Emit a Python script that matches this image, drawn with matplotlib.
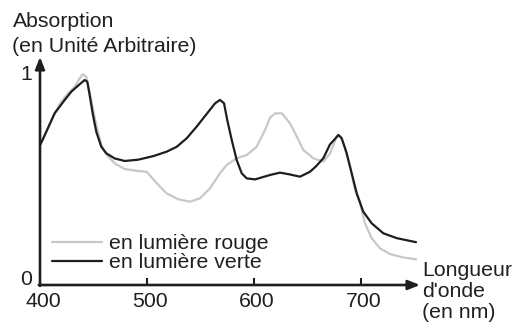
import matplotlib
matplotlib.use("Agg")
import matplotlib.pyplot as plt
import matplotlib.transforms as mtransforms

plt.rcParams['font.family'] = ['Liberation Sans', 'DejaVu Sans']

# ---- data ----
wl_verte = [400, 401.9, 413.7, 423.1, 429.3, 435.5, 441.8, 444.2, 446.4, 449.5, 452.6,
            457.3, 462.0, 469.8, 479.2, 491.6, 505.9, 518.4, 527.8, 537.1, 546.4, 555.8,
            563.6, 568.2, 572.0, 575.0, 579.2, 583.8, 588.5, 593.2, 600.9, 615.0, 624.3,
            633.0, 643.0, 652.3, 658.0, 664.8, 671.0, 675.7, 678.8, 682.0, 686.6, 691.3,
            696.0, 702.1, 710.0, 720.8, 733.4, 751.4]
abs_verte = [0.660, 0.679, 0.810, 0.873, 0.912, 0.940, 0.967, 0.959, 0.896, 0.802, 0.723,
             0.652, 0.621, 0.597, 0.585, 0.591, 0.608, 0.629, 0.652, 0.692, 0.747, 0.807,
             0.857, 0.873, 0.857, 0.778, 0.684, 0.590, 0.527, 0.503, 0.498, 0.519, 0.530,
             0.522, 0.511, 0.534, 0.560, 0.598, 0.663, 0.689, 0.708, 0.692, 0.621, 0.527,
             0.433, 0.346, 0.291, 0.244, 0.221, 0.202]

wl_rouge = [400, 401.9, 407.5, 413.7, 419.9, 426.2, 432.4, 437.1, 440.2, 443.3, 446.4,
            449.5, 452.6, 457.3, 462.0, 469.8, 479.2, 491.6, 499.7, 509.1, 518.4, 529.3,
            540.2, 549.5, 558.9, 568.2, 574.5, 583.8, 593.2, 602.5, 610.3, 615.0, 620.0,
            626.0, 633.6, 640.0, 646.1, 655.4, 664.8, 671.0, 677.3, 680.4, 685.0, 689.7,
            694.4, 699.1, 703.7, 710.0, 717.8, 727.1, 739.5, 751.4]
abs_rouge = [0.662, 0.679, 0.739, 0.810, 0.865, 0.904, 0.935, 0.975, 0.995, 0.982, 0.912,
             0.833, 0.755, 0.660, 0.616, 0.574, 0.547, 0.538, 0.534, 0.480, 0.432, 0.404,
             0.393, 0.409, 0.456, 0.527, 0.566, 0.598, 0.613, 0.652, 0.731, 0.790, 0.810,
             0.810, 0.763, 0.700, 0.637, 0.598, 0.582, 0.620, 0.700, 0.703, 0.652, 0.558,
             0.448, 0.385, 0.291, 0.220, 0.173, 0.146, 0.130, 0.121]

x_ticks = [500, 600, 700]
x_ticklabels = ["400", "500", "600", "700"]
y_ticks = [0, 1]
y_ticklabels = ["0", "1"]
labels = ["en lumière rouge", "en lumière verte"]

TXT = '#231f20'
BLACK = '#1e1e1e'
GRAY = '#c8c8c8'
FS = 15.3

W, H = 514, 324
fig = plt.figure(figsize=(W / 100, H / 100), dpi=100)
x0, x1, yb, yt = 40, 420, 285, 57
ax = fig.add_axes([x0 / W, 1 - yb / H, (x1 - x0) / W, (yb - yt) / H])
ax.set_xlim(400, 400 + (x1 - x0) / 1.07)
ax.set_ylim(0, (yb - yt) / 212)

ax.plot(wl_rouge, abs_rouge, color=GRAY, lw=1.6, label=labels[0],
        solid_joinstyle='round', solid_capstyle='round')
ax.plot(wl_verte, abs_verte, color=BLACK, lw=1.6, label=labels[1],
        solid_joinstyle='round', solid_capstyle='round')

for s in ax.spines.values():
    s.set_visible(False)

arrow = dict(arrowstyle='-|>,head_length=0.7,head_width=0.28', lw=1.9, color=BLACK,
             shrinkA=0, shrinkB=0)
ax.annotate('', xy=(0, 1), xytext=(0, -0.004), xycoords='axes fraction', arrowprops=arrow,
            annotation_clip=False)
ax.annotate('', xy=(1, 0), xytext=(-0.003, 0), xycoords='axes fraction', arrowprops=arrow,
            annotation_clip=False)

ax.set_xticks([400] + x_ticks)
ax.set_xticklabels(x_ticklabels, fontsize=FS, color=TXT)
ax.tick_params(axis='x', direction='in', length=5, width=1.5, color=BLACK, pad=5)
ax.xaxis.get_major_ticks()[0].tick1line.set_visible(False)
off = mtransforms.ScaledTranslation(3 / 100, 0, fig.dpi_scale_trans)
for lab in ax.get_xticklabels():
    lab.set_transform(lab.get_transform() + off)

ax.set_yticks(y_ticks)
ax.set_yticklabels(y_ticklabels, fontsize=FS, color=TXT)
ax.tick_params(axis='y', length=0, pad=6)
ax.get_yticklabels()[0].set_verticalalignment('baseline')

fig.text(12.5 / W, 1 - 27 / H, "Absorption", fontsize=FS, color=TXT, va='baseline', ha='left')
fig.text(12.5 / W, 1 - 52 / H, "(en Unité Arbitraire)", fontsize=FS, color=TXT, va='baseline', ha='left')
fig.text(422.5 / W, 1 - 276 / H, "Longueur", fontsize=FS, color=TXT, va='baseline', ha='left')
fig.text(422.5 / W, 1 - 297 / H, "d'onde", fontsize=FS, color=TXT, va='baseline', ha='left')
fig.text(422.5 / W, 1 - 318 / H, "(en nm)", fontsize=FS, color=TXT, va='baseline', ha='left')

leg = ax.legend(loc='upper left', bbox_to_anchor=(51.7 / W, 1 - 234 / H),
                bbox_transform=fig.transFigure, frameon=False, fontsize=FS,
                borderpad=0, borderaxespad=0, handlelength=2.35, handletextpad=0.36,
                labelspacing=0.02)
for t in leg.get_texts():
    t.set_color(TXT)

fig.savefig("out.png", dpi=100)
